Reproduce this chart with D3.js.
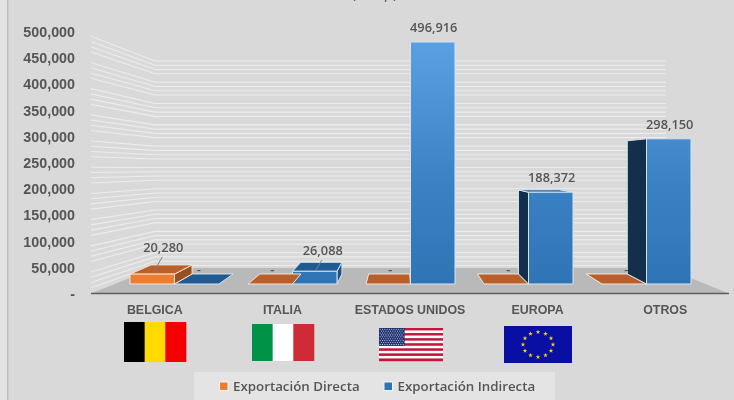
<!DOCTYPE html>
<html>
<head>
<meta charset="utf-8">
<script src="https://cdnjs.cloudflare.com/ajax/libs/d3/7.8.5/d3.min.js"></script>
<style>
  html, body { margin: 0; padding: 0; background: #d9d9d9; }
  svg { display: block; font-family: "Open Sans", sans-serif; font-weight: 600; filter: blur(0.35px); }
</style>
</head>
<body>
<svg id="chart" width="734" height="400"></svg>
<script>
const categories = ["BELGICA", "ITALIA", "ESTADOS UNIDOS", "EUROPA", "OTROS"];
const directa = [20280, 0, 0, 0, 0];
const indirecta = [0, 26088, 496916, 188372, 298150];
const seriesNames = ["Exportación Directa", "Exportación Indirecta"];
const yTicks = [0, 50000, 100000, 150000, 200000, 250000, 300000, 350000, 400000, 450000, 500000];
const minorTicks = d3.range(10000, 500000, 10000).filter((v) => v % 50000 !== 0);

const fmtInt = d3.format(",");
const fmtVal = (v) => (v === 0 ? "-" : fmtInt(v));

const TEXT = "#555555";
const svg = d3.select("#chart");

// page frame
svg.append("rect").attr("width", 734).attr("height", 400).attr("fill", "#d9d9d9");
svg.append("rect").attr("width", 7).attr("height", 400).attr("fill", "#e2e2e2");
svg.append("rect").attr("x", 7).attr("width", 1.5).attr("height", 400).attr("fill", "#bdbdbd");

// clipped title, only the bottoms of these glyphs show in the picture
[["(", 354], [",", 386], [")", 395]].forEach(([c, px]) => {
  svg.append("text").attr("x", px).attr("y", c === "," ? 0 : -1)
    .attr("text-anchor", "middle").attr("font-size", 13).attr("fill", TEXT).text(c);
});

// scales
const yAxisScale = d3.scaleLinear().domain([0, 500000]).range([294, 32]);
const yWallFront = d3.scaleLinear().domain([0, 500000]).range([293, 31]);
const yWallBack = d3.scaleLinear().domain([0, 500000]).range([269.7, 56.7]);
const yBar = d3.scaleLinear().domain([0, 500000]).range([284, 40.5]);
const xCat = d3.scaleBand().domain(categories).range([91, 729]);
const xBar = d3.scaleBand().domain(categories).range([130, 720]);
const xSeries = d3.scaleBand().domain([0, 1]).range([0, 89]);

const wall = { frontL: 91, backL: 155, backR: 666, frontR: 729, floorFront: 293.5, floorBack: 268 };

// depth projection of the bars
const VP_X = 400, VP_Y = 163, KX = 0.078, KY = 0.083;
const back = ([px, py]) => [px + (VP_X - px) * KX, py + (VP_Y - py) * KY];
const line = d3.line();

// gradient of the blue fronts
const defs = svg.append("defs");
const grad = defs.append("linearGradient").attr("id", "blueFront")
  .attr("gradientUnits", "userSpaceOnUse")
  .attr("x1", 0).attr("x2", 0).attr("y1", yBar(500000)).attr("y2", yBar(0));
grad.append("stop").attr("offset", 0).attr("stop-color", "#5ba0e2");
grad.append("stop").attr("offset", 0.6).attr("stop-color", "#3a81c4");
grad.append("stop").attr("offset", 1).attr("stop-color", "#2f74b5");

// walls and floor
const gridG = svg.append("g").attr("fill", "none").attr("stroke", "#ececec").attr("stroke-width", 1.1);
minorTicks.forEach((v) => {
  gridG.append("path").attr("d", line([
    [wall.frontL, yWallFront(v)],
    [wall.backL, yWallBack(v)],
    [wall.backR, yWallBack(v)],
  ]));
});
svg.append("path")
  .attr("d", line([
    [wall.frontL, wall.floorFront], [wall.backL, wall.floorBack],
    [wall.backR, wall.floorBack], [wall.frontR, wall.floorFront],
  ]) + "Z")
  .attr("fill", "#b9b9b9");
svg.append("line")
  .attr("x1", wall.frontL).attr("x2", wall.frontR)
  .attr("y1", wall.floorFront).attr("y2", wall.floorFront)
  .attr("stroke", "#5f5f5f").attr("stroke-width", 1.6);

// axes
const yAxis = d3.axisLeft(yAxisScale).tickValues(yTicks).tickSize(0).tickPadding(0).tickFormat(fmtVal);
const gy = svg.append("g").attr("transform", "translate(75,0)").call(yAxis);
gy.select(".domain").remove();
gy.selectAll("text").attr("font-size", 14.3).attr("font-family", "inherit").attr("fill", TEXT);

const xAxis = d3.axisBottom(xCat).tickSize(0).tickPadding(0);
const gx = svg.append("g").attr("transform", "translate(0,305)").call(xAxis);
gx.select(".domain").remove();
gx.selectAll("text").attr("font-size", 12.4).attr("font-family", "inherit").attr("fill", TEXT);

// bars
const palette = [
  { front: "#ed7d31", top: "#b9602a", side: "#9a4f1e", edge: "#f4e6da" },
  { front: "url(#blueFront)", top: "#215a91", side: "#132f4c", edge: "#d5e4f2" },
];
const sideRight = "#1d4f80";

function drawBar(g, left, w, val, s) {
  const c = palette[s];
  const y0 = yBar(0), y1 = yBar(val), right = left + w;
  const face = (pts, fill) =>
    g.append("path").attr("d", line(pts) + "Z").attr("fill", fill)
      .attr("stroke", c.edge).attr("stroke-width", 1).attr("stroke-linejoin", "round");

  if (val > 0 && right < VP_X) {
    face([[right, y1], back([right, y1]), back([right, y0]), [right, y0]],
      s === 0 ? c.side : sideRight);
  }
  if (val > 0 && left > VP_X + 20) {
    face([[left, y1], back([left, y1]), back([left, y0]), [left, y0]], c.side);
  }
  if (y1 > VP_Y) {
    face([[left, y1], back([left, y1]), back([right, y1]), [right, y1]], c.top);
  }
  if (val > 0) {
    face([[left, y1], [right, y1], [right, y0], [left, y0]], c.front);
  }
}

const barW = xSeries.bandwidth();
categories.forEach((cat, i) => {
  const g = svg.append("g");
  const leftSide = xBar(cat) < VP_X - 100;
  const order = leftSide ? [1, 0] : [0, 1];
  order.forEach((s) => {
    const v = s === 0 ? directa[i] : indirecta[i];
    drawBar(g, xBar(cat) + xSeries(s), barW, v, s);
  });
});

// value labels, the two short bars carry a leader line
const leaders = { 20280: { dx: 11, dy: -17, tx: -10 }, 26088: { dx: 8, dy: -11, tx: -7 } };
const labelG = svg.append("g").attr("font-size", 12.8).attr("fill", TEXT).attr("text-anchor", "middle");
[directa, indirecta].forEach((vals, s) => {
  vals.forEach((v, i) => {
    const cx = xBar(categories[i]) + xSeries(s) + barW / 2;
    if (v === 0) {
      labelG.append("text").attr("x", cx + 2).attr("y", 274).text(fmtVal(v));
      return;
    }
    const lead = leaders[v];
    if (lead) {
      const topY = back([cx, yBar(v)])[1];
      labelG.append("text").attr("x", cx + lead.dx).attr("y", topY + lead.dy + 4).text(fmtVal(v));
      svg.append("line")
        .attr("x1", cx + lead.dx - 1).attr("y1", topY + lead.dy + 9)
        .attr("x2", cx + lead.dx + lead.tx).attr("y2", topY + 8)
        .attr("stroke", "#7f7f7f").attr("stroke-width", 1);
    } else {
      labelG.append("text").attr("x", cx + 1).attr("y", yBar(v) - 10).text(fmtVal(v));
    }
  });
});

// flags
function stripesV(x, y, w, h, cols) {
  const sx = d3.scaleBand().domain(d3.range(cols.length)).range([x, x + w]);
  cols.forEach((c, i) => {
    svg.append("rect").attr("x", sx(i)).attr("y", y).attr("width", sx.bandwidth() + 0.3).attr("height", h).attr("fill", c);
  });
}
stripesV(124, 322, 62, 40, ["#000000", "#ffd900", "#f40000"]);
stripesV(252, 324, 62, 37, ["#009246", "#ffffff", "#ce2b37"]);

// USA
const usa = { x: 379, y: 328, w: 64, h: 33 };
const syUsa = d3.scaleBand().domain(d3.range(13)).range([usa.y, usa.y + usa.h]);
d3.range(13).forEach((i) => {
  svg.append("rect").attr("x", usa.x).attr("y", syUsa(i)).attr("width", usa.w)
    .attr("height", syUsa.bandwidth() + 0.2).attr("fill", i % 2 ? "#ffffff" : "#c8133b");
});
const cantonW = usa.w * 0.4, cantonH = syUsa.step() * 7;
svg.append("rect").attr("x", usa.x).attr("y", usa.y).attr("width", cantonW).attr("height", cantonH).attr("fill", "#1d2f6f");
d3.range(9).forEach((r) => {
  d3.range(r % 2 ? 10 : 11).forEach((k) => {
    svg.append("circle")
      .attr("cx", usa.x + 1.2 + k * 2.3 + (r % 2 ? 1.15 : 0))
      .attr("cy", usa.y + 1.2 + r * 1.9)
      .attr("r", 0.55).attr("fill", "#cfd6ea");
  });
});

// EU
const eu = { x: 504, y: 326, w: 68, h: 37 };
svg.append("rect").attr("x", eu.x).attr("y", eu.y).attr("width", eu.w).attr("height", eu.h).attr("fill", "#0a0fa3");
const star = d3.symbol().type(d3.symbolStar).size(7);
d3.range(12).forEach((k) => {
  const a = (k / 12) * 2 * Math.PI;
  svg.append("path").attr("d", star())
    .attr("transform", `translate(${eu.x + eu.w / 2 + 15 * Math.sin(a)},${eu.y + eu.h / 2 - 12.5 * Math.cos(a)})`)
    .attr("fill", "#f2d21b");
});

// legend
svg.append("rect").attr("x", 194).attr("y", 372).attr("width", 361).attr("height", 28).attr("fill", "#e4e4e4");
const legendX = [219.5, 384];
["#ed7d31", "#2e75b6"].forEach((col, i) => {
  svg.append("rect").attr("x", legendX[i]).attr("y", 382).attr("width", 8.5).attr("height", 8.5)
    .attr("fill", col).attr("stroke", "#f6f6f6").attr("stroke-width", 1);
  svg.append("text").attr("x", legendX[i] + 13.5).attr("y", 391)
    .attr("font-size", 13.3).attr("fill", TEXT).text(seriesNames[i]);
});
</script>
</body>
</html>
